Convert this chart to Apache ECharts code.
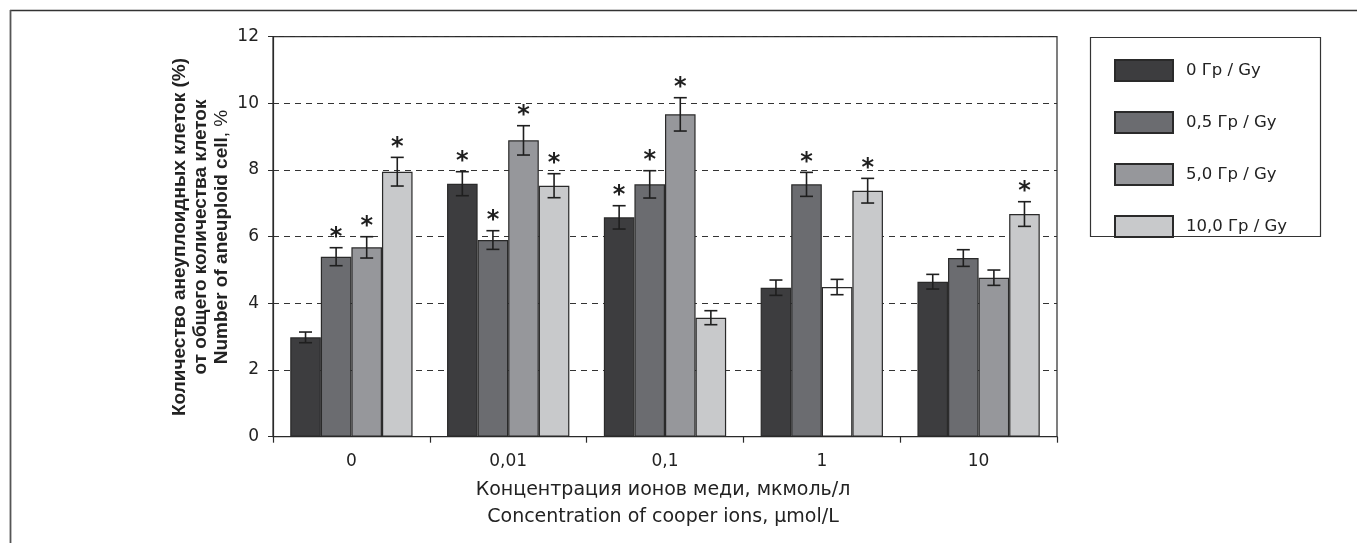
<!DOCTYPE html>
<html><head><meta charset="utf-8">
<script src="https://cdn.jsdelivr.net/npm/echarts@6/dist/echarts.min.js"></script>
<style>html,body{margin:0;padding:0;background:#fff}#c{width:1357px;height:543px}</style>
</head><body><div id="c"></div>
<script>
const categories = ['0', '0,01', '0,1', '1', '10'];
const seriesNames = ['0 Гр / Gy', '0,5 Гр / Gy', '5,0 Гр / Gy', '10,0 Гр / Gy'];
const gy0  = [2.98, 7.59, 6.58, 4.47, 4.65];
const gy05 = [5.40, 5.90, 7.57, 7.57, 5.36];
const gy5  = [5.68, 8.89, 9.67, 4.49, 4.77];
const gy10 = [7.95, 7.53, 3.57, 7.38, 6.68];
const err0  = [0.16, 0.36, 0.35, 0.23, 0.22];
const err05 = [0.27, 0.28, 0.41, 0.36, 0.25];
const err5  = [0.32, 0.44, 0.50, 0.23, 0.23];
const err10 = [0.43, 0.36, 0.21, 0.37, 0.37];
const star0  = [0, 1, 1, 0, 0];
const star05 = [1, 1, 1, 1, 0];
const star5  = [1, 1, 1, 0, 0];
const star10 = [1, 1, 0, 1, 1];
const yTicks = [0, 2, 4, 6, 8, 10, 12];
// bar drawn unfilled in the original: [categoryIndex, seriesIndex]
const hollowBars = [[3, 2]];

const values = [gy0, gy05, gy5, gy10];
const errs = [err0, err05, err5, err10];
const stars = [star0, star05, star5, star10];
const colors = ['#3d3d3f', '#6b6c70', '#96979b', '#c8c9cb'];
const CAT_GAP = 0.22;
const numFont = 'DejaVu Sans';

const barSeries = values.map((vals, si) => ({
  name: seriesNames[si],
  type: 'bar',
  barGap: '0%',
  barCategoryGap: (CAT_GAP * 100) + '%',
  itemStyle: { color: colors[si], borderColor: '#2a2a2a', borderWidth: 1.2 },
  data: vals.map((v, ci) => {
    const hollow = hollowBars.some(h => h[0] === ci && h[1] === si);
    return hollow ? { value: v, itemStyle: { color: '#ffffff' } } : v;
  }),
  z: 2
}));

const errData = [];
values.forEach((vals, si) => vals.forEach((v, ci) => {
  errData.push([ci, si, v, errs[si][ci], stars[si][ci]]);
}));

const errSeries = {
  type: 'custom',
  data: errData,
  encode: { x: 0, y: 2 },
  z: 5,
  silent: true,
  renderItem: function (params, api) {
    const ci = api.value(0), si = api.value(1), v = api.value(2), e = api.value(3), st = api.value(4);
    const catW = api.size([1, 0])[0];
    const barW = catW * (1 - CAT_GAP) / 4;
    const cx = api.coord([ci, 0])[0] + (si - 1.5) * barW;
    const yT = api.coord([ci, v + e])[1];
    const yB = api.coord([ci, v - e])[1];
    const hw = 6.5;
    const ls = { stroke: '#1f1f1f', lineWidth: 1.6 };
    const ch = [
      { type: 'line', shape: { x1: cx, y1: yT, x2: cx, y2: yB }, style: ls },
      { type: 'line', shape: { x1: cx - hw, y1: yT, x2: cx + hw, y2: yT }, style: ls },
      { type: 'line', shape: { x1: cx - hw, y1: yB, x2: cx + hw, y2: yB }, style: ls }
    ];
    if (st) {
      ch.push({ type: 'text', style: { text: '*', x: cx, y: yT + 2, align: 'center', verticalAlign: 'bottom',
        font: 'bold 24px "DejaVu Sans"', fill: '#1f1f1f' } });
    }
    return { type: 'group', children: ch };
  }
};

const chart = echarts.init(document.getElementById('c'), null, { renderer: 'canvas' });
chart.setOption({
  animation: false,
  backgroundColor: '#fff',
  grid: { left: 273, right: 300, top: 36.7, bottom: 106.3, show: true, borderColor: '#2a2a2a', borderWidth: 1.2 },
  legend: {
    orient: 'vertical', left: 1114, top: 59, padding: 0,
    itemWidth: 58, itemHeight: 21, itemGap: 29,
    data: seriesNames,
    icon: 'rect',
    textStyle: { fontFamily: numFont, fontSize: 16.5, color: '#222', padding: [0, 0, 0, 8] }
  },
  xAxis: {
    type: 'category', data: categories,
    axisLine: { lineStyle: { color: '#2a2a2a', width: 1.2 } },
    axisTick: { show: true, length: 6, alignWithLabel: false, lineStyle: { color: '#2a2a2a', width: 1.2 } },
    axisLabel: { fontFamily: numFont, fontSize: 17, color: '#222', margin: 16 }
  },
  yAxis: {
    type: 'value', min: yTicks[0], max: yTicks[yTicks.length - 1], interval: 2,
    axisLine: { show: true, lineStyle: { color: '#2a2a2a', width: 1.2 } },
    axisTick: { show: true, length: 9, lineStyle: { color: '#2a2a2a', type: [5, 4] } },
    axisLabel: { fontFamily: numFont, fontSize: 17, color: '#222', margin: 14 },
    splitLine: { show: true, lineStyle: { color: '#333', type: [6, 5], width: 1 } }
  },
  series: barSeries.concat([errSeries]),
  graphic: [
    { type: 'line', shape: { x1: 10, y1: 10.5, x2: 1357, y2: 10.5 }, style: { stroke: '#333', lineWidth: 1.5 } },
    { type: 'line', shape: { x1: 10.5, y1: 10, x2: 10.5, y2: 543 }, style: { stroke: '#555', lineWidth: 1.8 } },
    { type: 'rect', shape: { x: 1090.5, y: 37.5, width: 230, height: 199 }, style: { fill: 'none', stroke: '#333', lineWidth: 1.2 }, z: -1 },
    { type: 'text', x: 663, y: 490, style: { text: 'Концентрация ионов меди, мкмоль/л', align: 'center', verticalAlign: 'middle',
      font: '19px "DejaVu Sans"', fill: '#222' } },
    { type: 'text', x: 663, y: 517, style: { text: 'Concentration of cooper ions, µmol/L', align: 'center', verticalAlign: 'middle',
      font: '19px "DejaVu Sans"', fill: '#222' } },
    { type: 'text', x: 201, y: 237, rotation: Math.PI / 2,
      style: {
        text: '{b|Количество анеуплоидных клеток (%)}\n{b|от общего количества клеток}\n{b|Number of aneuploid cell}{n|, %}',
        align: 'center', verticalAlign: 'middle', fill: '#222',
        rich: {
          b: { fontFamily: 'Liberation Sans', fontWeight: 'bold', fontSize: 19, lineHeight: 21, fill: '#222' },
          n: { fontFamily: 'Liberation Sans', fontWeight: 'normal', fontSize: 19, lineHeight: 21, fill: '#222' }
        }
      } }
  ]
});
</script></body></html>
